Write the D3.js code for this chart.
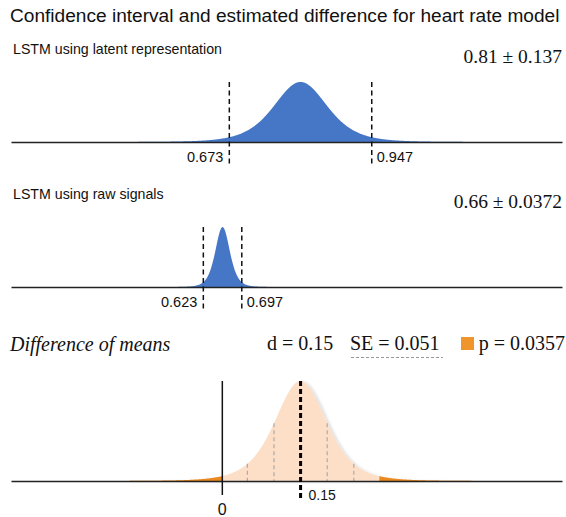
<!DOCTYPE html>
<html>
<head>
<meta charset="utf-8">
<script src="https://cdn.jsdelivr.net/npm/d3@7"></script>
<style>
  body { margin: 0; background: #fff; }
  svg text { font-family: "Liberation Sans", Arial, sans-serif; fill: #111; }
  svg text.serif { font-family: "Liberation Serif", "Times New Roman", serif; }
  .axis path { stroke: #222; stroke-width: 1.5; }
</style>
</head>
<body>
<div id="chart"></div>
<script>
const title = "Confidence interval and estimated difference for heart rate model";
const models = ["LSTM using latent representation", "LSTM using raw signals"];
const means = [0.81, 0.66];
const margins = [0.137, 0.0372];
const ciLow = [0.673, 0.623];
const ciHigh = [0.947, 0.697];
const diffTitle = "Difference of means";
const diffMean = 0.15;
const diffSE = 0.051;
const pValue = 0.0357;
const seSteps = [-2, -1, 1, 2];
const dof = 5;
const tCrit = 2.571; // 95% two sided, 5 dof
const modelDomain = [0.253, 1.313];
const diffDomain = [-0.405, 0.651];

const W = 566, H = 517;
const left = 11, right = 562;

const svg = d3.select("#chart").append("svg")
    .attr("width", W)
    .attr("height", H);

// soft shadow for the difference curve
svg.append("defs").append("filter")
    .attr("id", "shade")
    .attr("x", "-10%").attr("y", "-10%").attr("width", "120%").attr("height", "120%")
  .append("feDropShadow")
    .attr("dx", 2.5).attr("dy", 1)
    .attr("stdDeviation", 1.5)
    .attr("flood-color", "#000")
    .attr("flood-opacity", 0.15);

// student t density, scaled so the peak is 1
function dens(v, m, s) {
    const z = (v - m) / s;
    return Math.pow(1 + z * z / dof, -(dof + 1) / 2);
}

svg.append("text")
    .attr("x", 10).attr("y", 22)
    .style("font-size", "19.1px")
    .text(title);

const x = d3.scaleLinear().domain(modelDomain).range([left, right]);

models.forEach((name, i) => {
    const base = 142 + i * 145;
    const y = d3.scaleLinear().domain([0, 1]).range([base, base - 60]);
    const sd = margins[i] / tCrit;
    const pts = d3.range(modelDomain[0], modelDomain[1], 0.001)
        .map(v => [v, dens(v, means[i], sd)]);

    const g = svg.append("g");

    g.append("text")
        .attr("x", 13).attr("y", base - 88)
        .style("font-size", "14.2px")
        .text(name);

    g.append("text")
        .attr("class", "serif")
        .attr("x", right).attr("y", base - 79)
        .attr("text-anchor", "end")
        .style("font-size", "19.5px")
        .text(means[i] + " \u00b1 " + margins[i]);

    g.append("path")
        .datum(pts)
        .attr("fill", "#4677c7")
        .attr("d", d3.area().x(d => x(d[0])).y0(y(0)).y1(d => y(d[1])));

    g.append("g")
        .attr("class", "axis")
        .attr("transform", `translate(0,${base})`)
        .call(d3.axisBottom(x).tickValues([]).tickSizeOuter(0));

    [ciLow[i], ciHigh[i]].forEach((v, k) => {
        g.append("line")
            .attr("x1", x(v)).attr("x2", x(v))
            .attr("y1", y(1)).attr("y2", base + 23)
            .attr("stroke", "#111")
            .attr("stroke-width", 1.5)
            .attr("stroke-dasharray", "5,3.5");
        g.append("text")
            .attr("x", k === 0 ? x(v) - 6 : x(v) + 5)
            .attr("y", base + 20)
            .attr("text-anchor", k === 0 ? "end" : "start")
            .style("font-size", "14.5px")
            .text(v);
    });
});

// difference of means panel
const xd = d3.scaleLinear().domain(diffDomain).range([left, right]);
const base3 = 481;
const yd = d3.scaleLinear().domain([0, 1]).range([base3, base3 - 100]);
const dPts = d3.range(diffDomain[0], diffDomain[1], 0.001)
    .map(v => [v, dens(v, diffMean, diffSE)]);
const dArea = d3.area().x(d => xd(d[0])).y0(yd(0)).y1(d => yd(d[1]));

svg.append("text")
    .attr("class", "serif")
    .attr("x", 10).attr("y", 351)
    .style("font-size", "20px")
    .style("font-style", "italic")
    .text(diffTitle);

svg.append("text")
    .attr("class", "serif")
    .attr("x", 267).attr("y", 350)
    .style("font-size", "20px")
    .text("d = " + diffMean);

svg.append("text")
    .attr("class", "serif")
    .attr("x", 350).attr("y", 350)
    .style("font-size", "20px")
    .text("SE = " + diffSE);

svg.append("line")
    .attr("x1", 351).attr("x2", 443)
    .attr("y1", 357.5).attr("y2", 357.5)
    .attr("stroke", "#999")
    .attr("stroke-dasharray", "3,2");

svg.append("rect")
    .attr("x", 461).attr("y", 337)
    .attr("width", 13).attr("height", 13)
    .attr("fill", "#f0942c");

svg.append("text")
    .attr("class", "serif")
    .attr("x", right + 3).attr("y", 350)
    .attr("text-anchor", "end")
    .style("font-size", "20px")
    .text("p = " + pValue);

svg.append("path")
    .datum(dPts)
    .attr("fill", "#fddfc8")
    .attr("filter", "url(#shade)")
    .attr("d", dArea);

svg.append("path")
    .datum(dPts.filter(d => d[0] <= 0))
    .attr("fill", "#ea8a1e")
    .attr("d", dArea);

svg.append("path")
    .datum(dPts.filter(d => d[0] >= 2 * diffMean))
    .attr("fill", "#ea8a1e")
    .attr("d", dArea);

seSteps.forEach(k => {
    const v = diffMean + k * diffSE;
    svg.append("line")
        .attr("x1", xd(v)).attr("x2", xd(v))
        .attr("y1", yd(dens(v, diffMean, diffSE))).attr("y2", base3)
        .attr("stroke", "#aaa")
        .attr("stroke-width", 1.2)
        .attr("stroke-dasharray", "4,3");
});

svg.append("g")
    .attr("class", "axis")
    .attr("transform", `translate(0,${base3})`)
    .call(d3.axisBottom(xd).tickValues([]).tickSizeOuter(0));

svg.append("line")
    .attr("x1", xd(0)).attr("x2", xd(0))
    .attr("y1", yd(1)).attr("y2", base3 + 14)
    .attr("stroke", "#111")
    .attr("stroke-width", 1.5);

svg.append("text")
    .attr("x", xd(0)).attr("y", 515)
    .attr("text-anchor", "middle")
    .style("font-size", "16px")
    .text("0");

svg.append("line")
    .attr("x1", xd(diffMean)).attr("x2", xd(diffMean))
    .attr("y1", yd(1)).attr("y2", base3 + 20)
    .attr("stroke", "#000")
    .attr("stroke-width", 3)
    .attr("stroke-dasharray", "5,3");

svg.append("text")
    .attr("x", xd(diffMean) + 8).attr("y", 500)
    .style("font-size", "14px")
    .text(diffMean);
</script>
</body>
</html>
